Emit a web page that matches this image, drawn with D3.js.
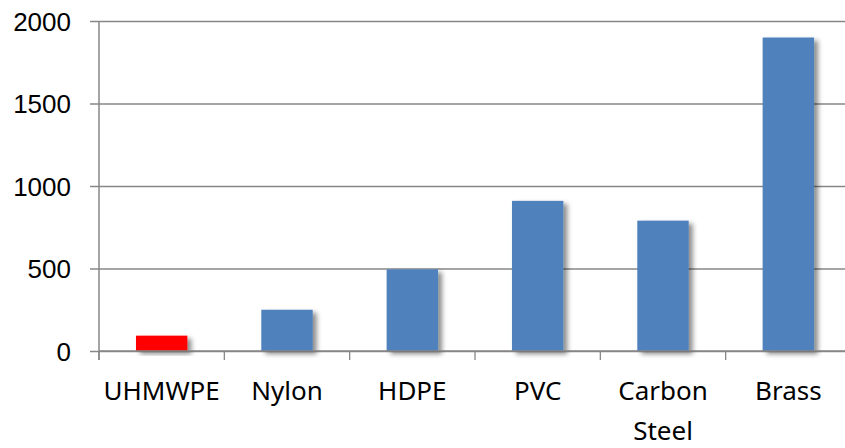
<!DOCTYPE html>
<html lang="en">
<head>
  <meta charset="UTF-8">
  <title>Material chart</title>
  <script src="https://d3js.org/d3.v7.min.js"></script>
  <style>
    body { margin: 0; background: #fff; }
    svg { display: block; font-family: "Noto Sans", sans-serif; }
  </style>
</head>
<body>
  <div id="chart"></div>
  <script>
    const categories = ["UHMWPE", "Nylon", "HDPE", "PVC", "Carbon Steel", "Brass"];
    const values = [93, 250, 495, 910, 790, 1900];
    const barColors = ["#ff0000", "#4f81bd", "#4f81bd", "#4f81bd", "#4f81bd", "#4f81bd"];
    const yTicks = [0, 500, 1000, 1500, 2000];

    const width = 845, height = 448;
    const margin = { top: 21, right: -6, bottom: 97, left: 99 };
    const axisColor = "#878787";

    const svg = d3.select("#chart").append("svg")
      .attr("width", width)
      .attr("height", height);

    const defs = svg.append("defs");
    const f = defs.append("filter").attr("id", "shadow")
      .attr("x", "-20%").attr("y", "-20%").attr("width", "150%").attr("height", "150%");
    f.append("feDropShadow")
      .attr("dx", 4).attr("dy", 3)
      .attr("stdDeviation", 2.5)
      .attr("flood-color", "#000")
      .attr("flood-opacity", 0.45);

    const x = d3.scaleBand()
      .domain(categories)
      .range([margin.left, width - margin.right])
      .paddingInner(0.59)
      .paddingOuter(0.295);

    const y = d3.scaleLinear()
      .domain([0, 2000])
      .range([height - margin.bottom, margin.top]);

    // gridlines + y tick labels
    const yAxis = svg.append("g")
      .attr("transform", `translate(${margin.left},0)`)
      .call(d3.axisLeft(y)
        .tickValues(yTicks)
        .tickFormat(d3.format("d"))
        .tickSize(-(width - margin.left) - 10)
        .tickSizeOuter(0)
        .tickPadding(0));
    yAxis.select(".domain").remove();
    yAxis.selectAll(".tick line")
      .attr("x1", -9)
      .attr("stroke", axisColor)
      .attr("stroke-width", 1.3);
    yAxis.selectAll(".tick text")
      .attr("x", -28)
      .attr("dy", "0.35em")
      .style("font-size", "26px")
      .attr("fill", "#000");

    // bars
    svg.append("g")
      .selectAll("rect")
      .data(values)
      .join("rect")
        .attr("x", (d, i) => x(categories[i]))
        .attr("y", d => y(d))
        .attr("width", x.bandwidth())
        .attr("height", d => y(0) - y(d))
        .attr("fill", (d, i) => barColors[i])
        .attr("filter", "url(#shadow)");

    // x axis
    const step = x.step();
    const xAxis = svg.append("g")
      .attr("transform", `translate(0,${y(0)})`);
    xAxis.append("line")
      .attr("x1", margin.left).attr("x2", width)
      .attr("stroke", axisColor).attr("stroke-width", 1.5);
    xAxis.selectAll(".xtick")
      .data(d3.range(categories.length + 1))
      .join("line")
        .attr("class", "xtick")
        .attr("x1", i => margin.left + i * step)
        .attr("x2", i => margin.left + i * step)
        .attr("y1", 0).attr("y2", 9)
        .attr("stroke", axisColor).attr("stroke-width", 1.3);

    const labels = xAxis.selectAll(".xlabel")
      .data(categories)
      .join("text")
        .attr("class", "xlabel")
        .attr("x", d => x(d) + x.bandwidth() / 2)
        .attr("y", 49)
        .attr("text-anchor", "middle")
        .style("font-size", "26px")
        .attr("fill", "#000");
    labels.each(function(d) {
      const words = d.split(" ");
      const t = d3.select(this);
      words.forEach((w, k) => {
        t.append("tspan")
          .attr("x", x(d) + x.bandwidth() / 2)
          .attr("dy", k === 0 ? 0 : 40)
          .text(w);
      });
    });

    // y axis line
    svg.append("line")
      .attr("x1", margin.left).attr("x2", margin.left)
      .attr("y1", margin.top).attr("y2", y(0) + 9)
      .attr("stroke", axisColor).attr("stroke-width", 1.5);
  </script>
</body>
</html>
